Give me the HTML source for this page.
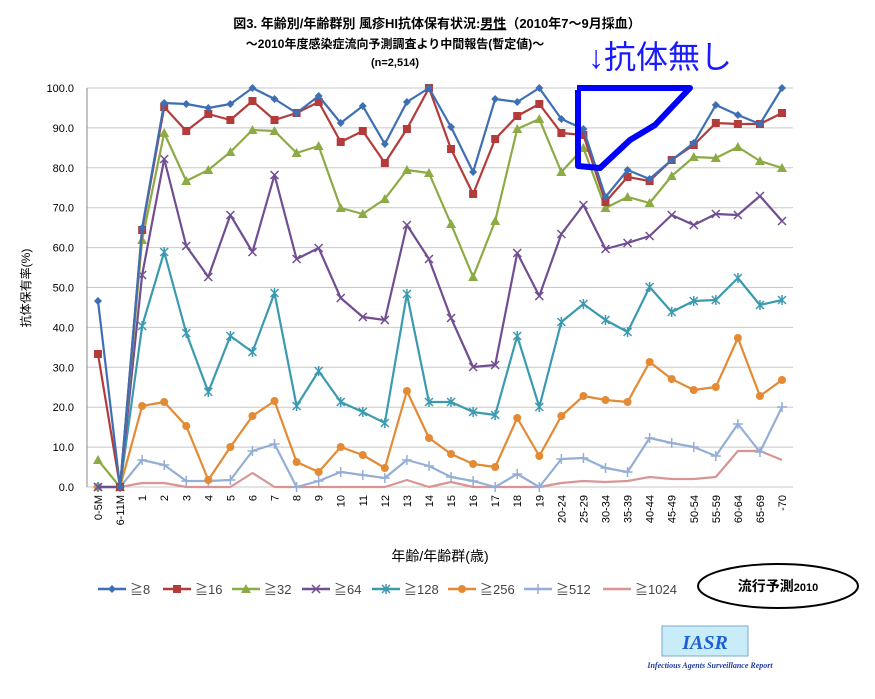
<!DOCTYPE html>
<html><head><meta charset="utf-8"><style>
body{margin:0;background:#fff;width:875px;height:694px;overflow:hidden;font-family:"Liberation Sans","Noto Sans CJK JP",sans-serif}
</style></head><body>
<svg id="s" width="875" height="694" xmlns="http://www.w3.org/2000/svg" font-family="Liberation Sans, Noto Sans CJK JP, sans-serif">
<rect width="875" height="694" fill="#fff"/>
<text x="437" y="28" text-anchor="middle" font-size="13" font-weight="bold">図3. 年齢別/年齢群別 風疹HI抗体保有状況:<tspan text-decoration="underline">男性</tspan>（2010年7～9月採血）</text>
<text x="395" y="48" text-anchor="middle" font-size="12" font-weight="bold">～2010年度感染症流向予測調査より中間報告(暫定値)～</text>
<text x="395" y="66" text-anchor="middle" font-size="11" font-weight="bold">(n=2,514)</text>
<g id="grid"></g>
<text x="30" y="288" font-size="12" transform="rotate(-90 30 288)" text-anchor="middle">抗体保有率(%)</text>
<text x="440" y="561" font-size="14" text-anchor="middle">年齢/年齢群(歳)</text>
<g id="series"></g>
<g id="legend"></g>
<text x="588" y="68" font-size="32" fill="#1a1aff">↓抗体無し</text>
<polyline points="577,88 690,88 655,125 630,140 600,168 578,166 578,90" fill="none" stroke="#0000ff" stroke-width="6" stroke-linejoin="round"/>
<ellipse cx="778" cy="586" rx="80" ry="22" fill="#fff" stroke="#000" stroke-width="2"/>
<text x="778" y="591" font-size="14" font-weight="bold" text-anchor="middle">流行予測<tspan font-size="11">2010</tspan></text>
<rect x="662" y="626" width="86" height="30" fill="#c8ecf8" stroke="#7ac" stroke-width="1"/>
<text x="705" y="649" font-size="20" font-weight="bold" font-style="italic" fill="#1c5fd8" text-anchor="middle" font-family="Liberation Serif, serif">IASR</text>
<text x="710" y="668" font-size="8" font-style="italic" font-weight="bold" fill="#1c3aa0" text-anchor="middle" font-family="Liberation Serif, serif">Infectious Agents Surveillance Report</text>
</svg>
<script>
var NS="http://www.w3.org/2000/svg";
function el(p,t,a,txt){var e=document.createElementNS(NS,t);for(var k in a)e.setAttribute(k,a[k]);if(txt!=null)e.textContent=txt;p.appendChild(e);return e;}
var g=document.getElementById('grid'),S=document.getElementById('series'),L=document.getElementById('legend');
var cats=["0-5M","6-11M"];for(var i=1;i<=19;i++)cats.push(""+i);
cats=cats.concat(["20-24","25-29","30-34","35-39","40-44","45-49","50-54","55-59","60-64","65-69","-70"]);
function X(i){return 98+i*22.065;}
for(var v=0;v<=100;v+=10){var y=487-v*3.99;el(g,'line',{x1:87,x2:793,y1:y,y2:y,stroke:'#c8c8c8','stroke-width':1});
el(g,'text',{x:74,y:y+4,'font-size':11,'text-anchor':'end'},v.toFixed(1));}
el(g,'line',{x1:87,x2:87,y1:88,y2:487,stroke:'#888'});
for(var i=0;i<32;i++){var x=X(i);el(g,'text',{x:x+4,y:495,'font-size':11,'text-anchor':'end',transform:'rotate(-90 '+(x+4)+' 495)'},cats[i]);}
var D=[
["#3e6fb5","d","≧8",[301,487,228,103,104,108,104,88,99,113,96,123,106,144,102,88,127,172,99,102,88,119,129,197,170,179,160,143,105,115,124,88]],
["#b33c3a","s","≧16",[354,487,230,107,131,114,120,101,120,113,102,142,131,163,129,88,149,194,139,116,104,133,135,202,177,181,160,145,123,124,124,113]],
["#8cab45","t","≧32",[460,487,240,133,181,170,152,130,131,153,146,208,214,199,170,173,224,277,221,129,119,172,148,208,197,203,176,157,158,147,161,168]],
["#704e91","x","≧64",[487,487,275,159,246,277,215,252,175,259,248,298,317,320,225,259,318,367,365,253,296,234,205,249,243,236,215,225,214,215,196,221]],
["#3b9ab0","a","≧128",[487,487,326,252,333,392,336,352,293,406,371,402,412,423,294,402,402,412,415,336,407,322,304,320,332,287,312,301,300,278,305,300]],
["#e48a35","c","≧256",[487,487,406,402,426,480,447,416,401,462,472,447,455,468,391,438,454,464,467,418,456,416,396,400,402,362,379,390,387,338,396,380]],
["#94aed6","p","≧512",[487,487,460,465,481,481,480,451,444,487,481,472,475,478,460,466,477,481,487,474,487,459,458,468,472,438,443,447,456,424,452,407]],
["#d99594","n","≧1024",[487,487,483,483,487,487,487,473,487,487,487,487,487,487,480,487,482,487,487,487,487,483,481,482,481,477,479,479,477,451,451,460]]];
function mk(p,t,x,y,c){
 if(t=='d')el(p,'polygon',{points:(x)+','+(y-4)+' '+(x+4)+','+y+' '+x+','+(y+4)+' '+(x-4)+','+y,fill:c});
 else if(t=='s')el(p,'rect',{x:x-4,y:y-4,width:8,height:8,fill:c});
 else if(t=='t')el(p,'polygon',{points:x+','+(y-5)+' '+(x+5)+','+(y+4)+' '+(x-5)+','+(y+4),fill:c});
 else if(t=='x'){el(p,'path',{d:'M'+(x-4)+' '+(y-4)+'L'+(x+4)+' '+(y+4)+'M'+(x+4)+' '+(y-4)+'L'+(x-4)+' '+(y+4),stroke:c,'stroke-width':1.5});}
 else if(t=='a'){el(p,'path',{d:'M'+(x-4)+' '+(y-4)+'L'+(x+4)+' '+(y+4)+'M'+(x+4)+' '+(y-4)+'L'+(x-4)+' '+(y+4)+'M'+x+' '+(y-5)+'L'+x+' '+(y+5),stroke:c,'stroke-width':1.5});}
 else if(t=='c')el(p,'circle',{cx:x,cy:y,r:4,fill:c});
 else if(t=='p'){el(p,'path',{d:'M'+(x-5)+' '+y+'L'+(x+5)+' '+y+'M'+x+' '+(y-5)+'L'+x+' '+(y+5),stroke:c,'stroke-width':1.5});}
}
for(var k=D.length-1;k>=0;k--){var d=D[k],pts=d[3].map(function(y,i){return X(i)+','+y}).join(' ');
el(S,'polyline',{points:pts,fill:'none',stroke:d[0],'stroke-width':2.2,'stroke-linejoin':'round'});
if(d[1]!='n')d[3].forEach(function(y,i){mk(S,d[1],X(i),y,d[0]);});}
var lx=[98,163,232,302,372,448,524,603];
D.forEach(function(d,i){var x=lx[i],y=589;el(L,'line',{x1:x,x2:x+28,y1:y,y2:y,stroke:d[0],'stroke-width':2.5});
if(d[1]!='n')mk(L,d[1],x+14,y,d[0]);el(L,'text',{x:x+32,y:y+5,'font-size':13,fill:'#444'},d[2]);});
</script>
</body></html>
